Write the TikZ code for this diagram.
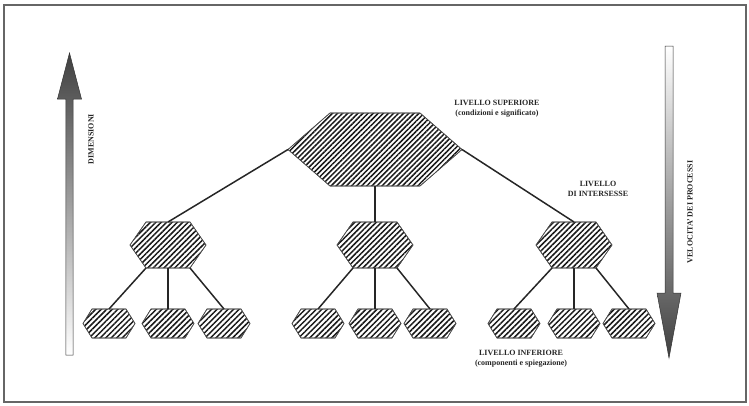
\documentclass[tikz,border=0pt]{standalone}
\usepackage{fontspec}
\setmainfont{Liberation Serif}
\usetikzlibrary{patterns.meta,calc}
\tikzset{
  hexbox/.style={draw=none, inner sep=0pt, outer sep=0pt, shape=rectangle},
  hexfill/.style={draw=black!70, line width=0.6pt, pattern color=black!90},
  conn/.style={draw=black!85, line width=1.5pt},
  lbl/.style={font=\fontsize{8}{10}\selectfont\bfseries, text=black!85, inner sep=0pt, align=center},
  bigarrow/.style={draw=black!80, line width=0.5pt}
}
\newcommand\hexagonnode[7]{%
  \node[hexbox, minimum width=2*#5, minimum height=2*#6] (#1) at (#2,#3) {};
  \path[hexfill, pattern={Lines[angle=45,distance=#7pt,line width=1.5pt]}]
    (#2-#4,#3) -- (#2-#5,#3-#6) -- (#2+#5,#3-#6) -- (#2+#4,#3) -- (#2+#5,#3+#6) -- (#2-#5,#3+#6) -- cycle;
  \draw[hexfill] (#2-#4,#3) -- (#2-#5,#3-#6) -- (#2+#5,#3-#6) -- (#2+#4,#3) -- (#2+#5,#3+#6) -- (#2-#5,#3+#6) -- cycle;
}
\begin{document}
\begin{tikzpicture}[x=1pt,y=-1pt]
\useasboundingbox (0,0) rectangle (749,405);
% frame
\draw[black!60, line width=1.2pt] (4,5) rectangle (746,402);

% arrows
\shade[bigarrow, top color=black!75, middle color=black!40, bottom color=white]
  (65.8,355) -- (65.8,99) -- (57.5,99) -- (69.5,53) -- (81.5,99) -- (73.2,99) -- (73.2,355) -- cycle;
\shade[bigarrow, top color=white, middle color=black!40, bottom color=black!75]
  (665,46) -- (673,46) -- (673,293) -- (681,293) -- (669,358) -- (657,293) -- (665,293) -- cycle;

% hexagons
\hexagonnode{top}{375}{149.5}{87}{45}{36.5}{3.6}
\hexagonnode{mA}{168}{245}{38}{22}{23}{3.8}
\hexagonnode{mB}{375}{245}{38}{22}{23}{3.8}
\hexagonnode{mC}{574}{245}{38}{22}{23}{3.8}

\foreach \n/\x in {sA1/109,sA2/168,sA3/224,sB1/318,sB2/375,sB3/430,sC1/514,sC2/574,sC3/629}{
  \hexagonnode{\n}{\x}{323.5}{26}{17}{14.5}{3.9}
}

% connectors
\draw[conn] ($(top.west)+(-42,0)$) -- (mA.north);
\draw[conn] (top.south) -- (mB.north);
\draw[conn] ($(top.east)+(42,0)$) -- (mC.north);

\draw[conn] (mA.south west) -- (sA1.north);
\draw[conn] (mA.south) -- (sA2.north);
\draw[conn] (mA.south east) -- (sA3.north);
\draw[conn] (mB.south west) -- (sB1.north);
\draw[conn] (mB.south) -- (sB2.north);
\draw[conn] (mB.south east) -- (sB3.north);
\draw[conn] (mC.south west) -- (sC1.north);
\draw[conn] (mC.south) -- (sC2.north);
\draw[conn] (mC.south east) -- (sC3.north);

% labels
\node[lbl] (lsup) at (497,109) {LIVELLO SUPERIORE\\(condizioni e significato)};
\node[lbl] (lint) at (598,189) {LIVELLO\\DI INTERSESSE};
\node[lbl] (linf) at (521,358.5) {LIVELLO INFERIORE\\(componenti e spiegazione)};
\node[lbl, rotate=90] (ldim) at (91,139) {DIMENSIONI};
\node[lbl, rotate=90] (lvel) at (690,212) {VELOCITA' DEI PROCESSI};
\end{tikzpicture}
\end{document}
